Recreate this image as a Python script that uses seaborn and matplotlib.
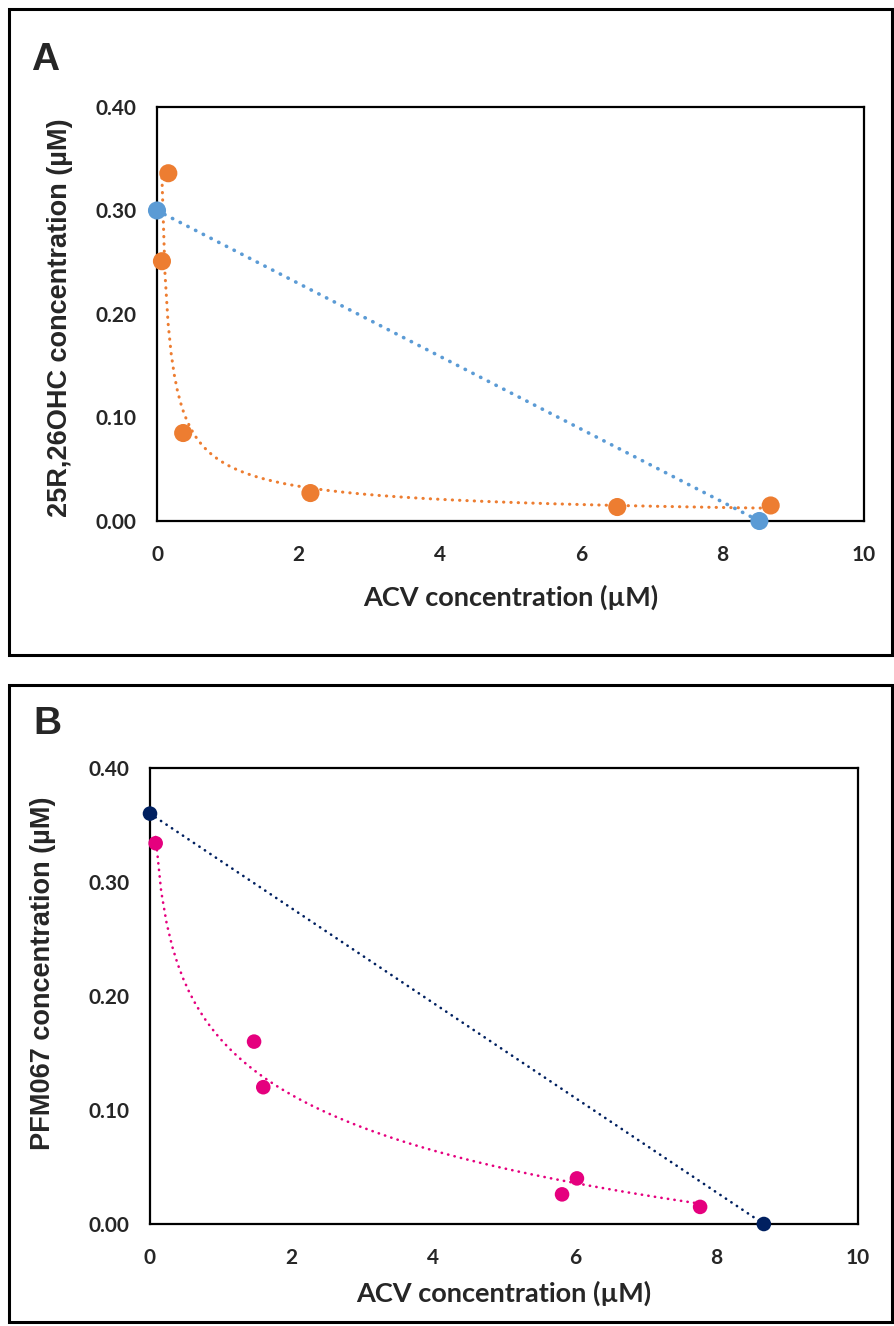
import numpy as np
import seaborn as sns
import matplotlib.pyplot as plt
from matplotlib.patches import Rectangle

# panel A: 25R,26OHC vs ACV
acv_a = [0.16, 0.07, 0.37, 2.17, 6.51, 8.68]
ohc_a = [0.336, 0.251, 0.085, 0.027, 0.0135, 0.015]
iso_acv_a = [0.0, 8.52]
iso_ohc_a = [0.30, 0.0]

# panel B: PFM067 vs ACV
acv_b = [0.08, 1.47, 1.60, 5.82, 6.03, 7.77]
pfm_b = [0.334, 0.160, 0.120, 0.026, 0.040, 0.015]
iso_acv_b = [0.0, 8.67]
iso_pfm_b = [0.36, 0.0]

x_ticks = [0, 2, 4, 6, 8, 10]
y_ticks = [0.0, 0.1, 0.2, 0.3, 0.4]

ORANGE = "#ED7D31"
BLUE = "#5B9BD5"
NAVY = "#002060"
PINK = "#E5007E"
ARIAL = ["Liberation Sans", "DejaVu Sans"]

sns.set_theme(style="white")
plt.rcParams['font.family'] = ['Lato', 'DejaVu Sans']
plt.rcParams['lines.dash_capstyle'] = 'round'

fig = plt.figure(figsize=(8.94, 13.26), dpi=100)
W, H = 894, 1326


def px_axes(left, top, right, bottom):
    return fig.add_axes([left / W, 1 - bottom / H, (right - left) / W, (bottom - top) / H])


def power_fit(x, y):
    # excel style power trendline, y = a * x^b, fitted on the data
    b, loga = np.polyfit(np.log(x), np.log(y), 1)
    xs = np.linspace(min(x), max(x), 200)
    return xs, np.exp(loga) * xs ** b


def style_axes(ax, ylabel, ylab_pos, xlab_y):
    ax.set_xlim(0, 10)
    ax.set_ylim(0, 0.4)
    ax.set_xticks(x_ticks)
    ax.set_yticks(y_ticks)
    ax.set_xticklabels([str(t) for t in x_ticks], fontweight="bold", fontsize=15)
    ax.set_yticklabels(["%.2f" % t for t in y_ticks], fontweight="bold", fontsize=15)
    ax.tick_params(axis="both", length=0)
    ax.tick_params(axis="x", pad=17)
    ax.tick_params(axis="y", pad=15)
    for s in ax.spines.values():
        s.set_visible(True)
        s.set_color("black")
        s.set_linewidth(1.6)
    ax.grid(False)
    ax.set_xlabel("ACV concentration (µM)", fontsize=19.5, fontweight="bold")
    ax.xaxis.set_label_coords(0.5, xlab_y)
    ax.xaxis.label.set_va("center")
    ax.set_ylabel(ylabel, fontsize=19.5, fontweight="bold", family=ARIAL)
    ax.yaxis.set_label_coords(*ylab_pos)
    ax.yaxis.label.set_va("center")


# ---- panel A
axA = px_axes(157, 107, 864, 521)
xs, ys = power_fit(acv_a, ohc_a)
sns.lineplot(x=xs, y=ys, ax=axA, color=ORANGE, lw=2.2, linestyle=(0, (0.1, 2.3)), sort=False)
sns.lineplot(x=iso_acv_a, y=iso_ohc_a, ax=axA, color=BLUE, lw=2.6, linestyle=(0, (0.1, 2.3)),
             sort=False)
sns.scatterplot(x=acv_a, y=ohc_a, ax=axA, color=ORANGE, s=170, edgecolor="none",
                clip_on=False, zorder=5)
sns.scatterplot(x=iso_acv_a, y=iso_ohc_a, ax=axA, color=BLUE, s=170, edgecolor="none",
                clip_on=False, zorder=6)
style_axes(axA, "25R,26OHC concentration (µM)", (-0.137, 0.49), -0.184)

# ---- panel B
axB = px_axes(150, 768, 858, 1224)
# logarithmic trendline y = a + b*ln(x)
sns.regplot(x=acv_b, y=pfm_b, ax=axB, logx=True, ci=None, scatter=False, truncate=True,
            line_kws=dict(color=PINK, lw=1.9, linestyle=(0, (0.1, 2.4))))
sns.lineplot(x=iso_acv_b, y=iso_pfm_b, ax=axB, color=NAVY, lw=1.9, linestyle=(0, (0.1, 2.4)),
             sort=False)
sns.scatterplot(x=acv_b, y=pfm_b, ax=axB, color=PINK, s=110, edgecolor="none",
                clip_on=False, zorder=5)
sns.scatterplot(x=iso_acv_b, y=iso_pfm_b, ax=axB, color=NAVY, s=110, edgecolor="none",
                clip_on=False, zorder=6)
style_axes(axB, "PFM067 concentration (µM)", (-0.151, 0.55), -0.151)

# outer frames and panel letters
for (l, t, r, b) in [(9, 9, 892, 655), (9, 685, 892, 1322)]:
    fig.patches.append(Rectangle((l / W, 1 - b / H), (r - l) / W, (b - t) / H,
                                 transform=fig.transFigure, fill=False,
                                 edgecolor="black", lw=2.2))
fig.text(31 / W, 1 - 60 / H, "A", fontsize=28, fontweight="bold", family=ARIAL,
         va="center", ha="left")
fig.text(33 / W, 1 - 724 / H, "B", fontsize=28, fontweight="bold", family=ARIAL,
         va="center", ha="left")

fig.savefig("out.png", dpi=100, facecolor="white")
